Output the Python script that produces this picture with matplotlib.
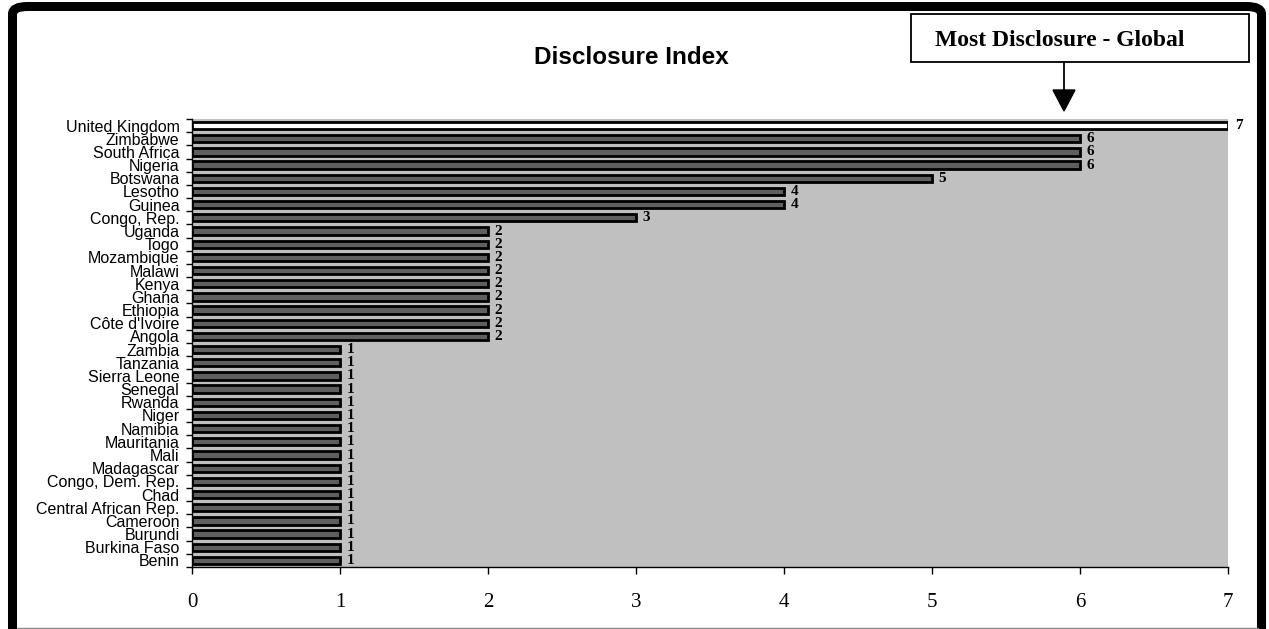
import matplotlib.pyplot as plt
from matplotlib.patches import FancyBboxPatch, Rectangle
import numpy as np

countries = ["United Kingdom", "Zimbabwe", "South Africa", "Nigeria", "Botswana",
             "Lesotho", "Guinea", "Congo, Rep.", "Uganda", "Togo", "Mozambique",
             "Malawi", "Kenya", "Ghana", "Ethiopia", "Côte d'Ivoire", "Angola",
             "Zambia", "Tanzania", "Sierra Leone", "Senegal", "Rwanda", "Niger",
             "Namibia", "Mauritania", "Mali", "Madagascar", "Congo, Dem. Rep.",
             "Chad", "Central African Rep.", "Cameroon", "Burundi", "Burkina Faso",
             "Benin"]
scores = [7, 6, 6, 6, 5, 4, 4, 3, 2, 2, 2, 2, 2, 2, 2, 2, 2,
          1, 1, 1, 1, 1, 1, 1, 1, 1, 1, 1, 1, 1, 1, 1, 1, 1]
xticks = [0, 1, 2, 3, 4, 5, 6, 7]

fig = plt.figure(figsize=(12.69, 6.29), dpi=100)

# outer frame, thick rounded border
frame = FancyBboxPatch((12.5 / 1269, -0.05), 1249 / 1269, 1 - 6.5 / 629 + 0.05,
                       boxstyle="round,pad=0,rounding_size=0.012",
                       transform=fig.transFigure, fill=False, lw=6.5,
                       edgecolor="black", zorder=0)
fig.patches.append(frame)
fig.add_artist(plt.Line2D([17 / 1269, 1258 / 1269], [1.5 / 629, 1.5 / 629],
                          color="#888888", lw=1, transform=fig.transFigure))

ax = fig.add_axes([192 / 1269, 1 - 567 / 629, (1228 - 192) / 1269, (567 - 119) / 629])
ax.set_facecolor("#c0c0c0")

n = len(countries)
ypos = np.arange(n)
colors = ["white"] + ["#5f5f5f"] * (n - 1)
ax.barh(ypos, scores, height=0.55, color=colors, edgecolor="black", linewidth=2,
        zorder=3)

for y, v in zip(ypos, scores):
    ax.text(v + 0.045, y, str(v), va="center", ha="left", fontsize=11,
            fontweight="bold", family="Liberation Serif", zorder=4)

ax.set_xlim(0, 7)
ax.set_ylim(n - 0.5, -0.5)

# category ticks sit between rows, labels in the middle of each row
ax.set_yticks(np.arange(n + 1) - 0.5)
ax.set_yticklabels([])
ax.set_yticks(ypos, minor=True)
ax.set_yticklabels(countries, minor=True, fontsize=11.5, family="Liberation Sans")
ax.tick_params(axis="y", which="major", length=4, width=1, direction="out")
ax.tick_params(axis="y", which="minor", length=0, pad=9)

ax.set_xticks(xticks)
ax.set_xticklabels([str(t) for t in xticks], fontsize=15, family="Liberation Serif")
ax.tick_params(axis="x", length=5, width=1, direction="out", pad=14)

for side in ["top", "right"]:
    ax.spines[side].set_visible(False)
ax.spines["left"].set_linewidth(1)
ax.spines["bottom"].set_linewidth(1)

fig.text(631 / 1269, 1 - 57 / 629, "Disclosure Index", ha="center", va="center",
         fontsize=17.5, fontweight="bold", family="Liberation Sans")

# callout box with arrow
box = Rectangle((911 / 1269, 1 - 62 / 629), (1249 - 911) / 1269, 48 / 629,
                transform=fig.transFigure, fill=True, facecolor="white",
                edgecolor="black", lw=1.3)
fig.patches.append(box)
fig.text(1060 / 1269, 1 - 41 / 629, "Most Disclosure - Global", ha="center",
         va="center", fontsize=17, fontweight="bold", family="Liberation Serif")
fig.add_artist(plt.Line2D([1064 / 1269, 1064 / 1269], [1 - 62 / 629, 1 - 92 / 629],
                          color="black", lw=1.3, transform=fig.transFigure))
fig.add_artist(plt.Polygon([[1053 / 1269, 1 - 90 / 629], [1075 / 1269, 1 - 90 / 629],
                            [1064 / 1269, 1 - 111 / 629]], closed=True,
                           facecolor="black", edgecolor="black",
                           transform=fig.transFigure))

fig.savefig("out.png", dpi=100)
